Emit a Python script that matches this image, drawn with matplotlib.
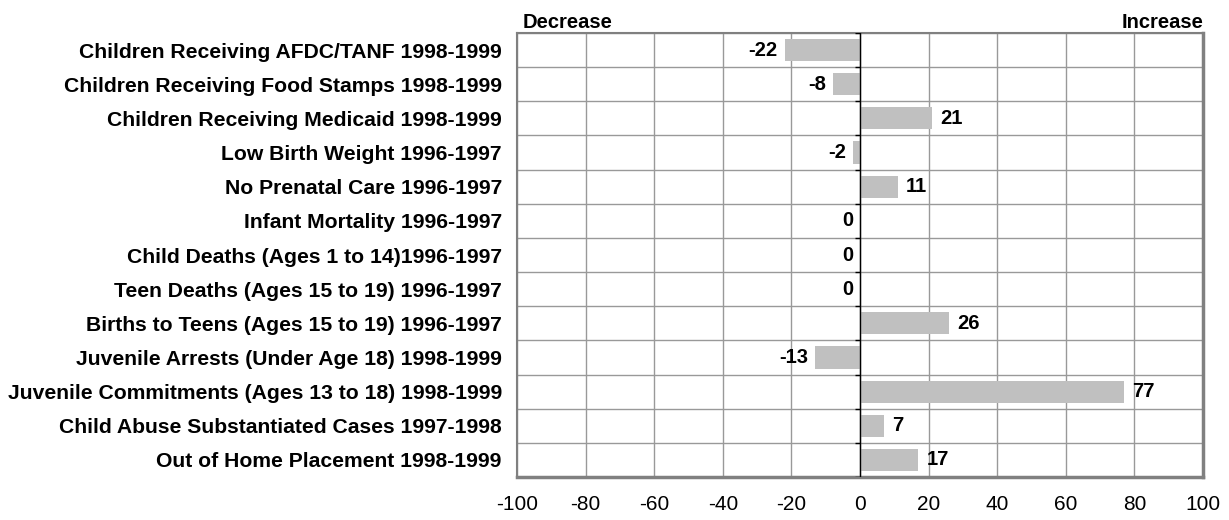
import numpy as np
import matplotlib.pyplot as plt

plt.rcParams['font.family'] = ['Liberation Sans', 'DejaVu Sans']

categories = [
    "Children Receiving AFDC/TANF 1998-1999",
    "Children Receiving Food Stamps 1998-1999",
    "Children Receiving Medicaid 1998-1999",
    "Low Birth Weight 1996-1997",
    "No Prenatal Care 1996-1997",
    "Infant Mortality 1996-1997",
    "Child Deaths (Ages 1 to 14)1996-1997",
    "Teen Deaths (Ages 15 to 19) 1996-1997",
    "Births to Teens (Ages 15 to 19) 1996-1997",
    "Juvenile Arrests (Under Age 18) 1998-1999",
    "Juvenile Commitments (Ages 13 to 18) 1998-1999",
    "Child Abuse Substantiated Cases 1997-1998",
    "Out of Home Placement 1998-1999",
]
values = [-22, -8, 21, -2, 11, 0, 0, 0, 26, -13, 77, 7, 17]
x_ticks = [-100, -80, -60, -40, -20, 0, 20, 40, 60, 80, 100]

n = len(categories)
y = np.arange(n)

fig = plt.figure(figsize=(12.29, 5.2), dpi=100)
ax = fig.add_axes([0.4207, 0.0827, 0.5582, 0.8538])

ax.barh(y, values, height=0.65, color='#c0c0c0', zorder=3)

ax.set_xlim(-100, 100)
ax.set_ylim(n - 0.5, -0.5)
ax.set_xticks(x_ticks)
ax.set_xticklabels([str(t) for t in x_ticks], fontsize=15)
ax.set_yticks(y)
ax.set_yticklabels(categories, fontsize=15.2, fontweight='bold')
ax.tick_params(axis='x', length=0, pad=13)
ax.tick_params(axis='y', length=0, pad=11)

# grid
for t in x_ticks:
    ax.axvline(t, color='#999999', lw=1, zorder=1)
for b in np.arange(n + 1) - 0.5:
    ax.axhline(b, color='#999999', lw=1, zorder=1)

# zero axis with tick marks
ax.axvline(0, color='black', lw=1, zorder=4)
ax.hlines(np.arange(n + 1) - 0.5, -1.6, 0, color='black', lw=1, zorder=4)

for s in ax.spines.values():
    s.set_color('#808080')
    s.set_linewidth(1.5)
ax.spines['bottom'].set_linewidth(2.5)
ax.spines['right'].set_linewidth(2.5)

# value labels
for yi, v in zip(y, values):
    if v > 0:
        ax.annotate(str(v), (v, yi), xytext=(6, 0), textcoords='offset points',
                    ha='left', va='center', fontsize=14.5, fontweight='bold', zorder=5)
    else:
        ax.annotate(str(v), (v, yi), xytext=(-5, 0), textcoords='offset points',
                    ha='right', va='center', fontsize=14.5, fontweight='bold', zorder=5)

ax.text(0.008, 1.003, 'Decrease', transform=ax.transAxes, ha='left', va='bottom',
        fontsize=14.5, fontweight='bold')
ax.text(1.0, 1.003, 'Increase', transform=ax.transAxes, ha='right', va='bottom',
        fontsize=14.5, fontweight='bold')

fig.savefig('out.png', dpi=100)
